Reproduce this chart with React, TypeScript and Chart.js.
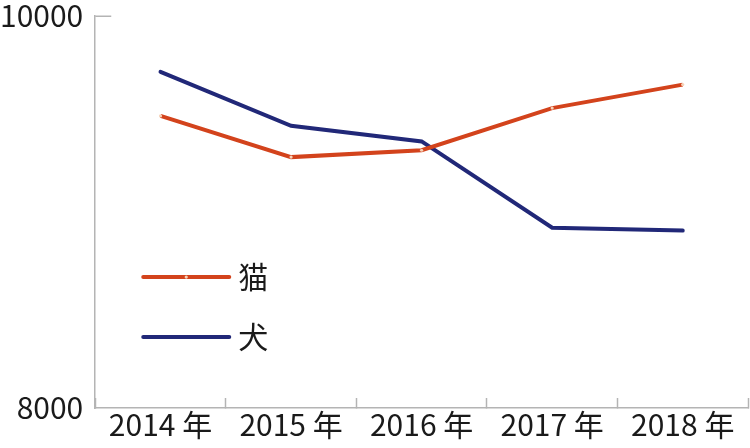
import { useEffect, useRef } from 'react';
import { Chart, registerables } from 'chart.js';

Chart.register(...registerables);

const years = ['2014 年', '2015 年', '2016 年', '2017 年', '2018 年'];
const catValues = [9490, 9280, 9315, 9530, 9650];
const dogValues = [9715, 9440, 9360, 8920, 8905];
const yTicks = [8000, 10000];

const FONT = '"Noto Sans CJK JP", "Noto Sans", sans-serif';
const AXIS_GRAY = '#b4b4b4';

// inward tick marks on the value axis
const innerYTicks = {
  id: 'innerYTicks',
  afterDraw(chart: Chart) {
    const { ctx, chartArea } = chart;
    const yScale: any = chart.scales.y;
    ctx.save();
    ctx.strokeStyle = AXIS_GRAY;
    ctx.lineWidth = 1.5;
    yScale.ticks.forEach((t: any) => {
      if (t.value === yScale.min) return;
      const y = Math.round(yScale.getPixelForValue(t.value)) + 0.25;
      ctx.beginPath();
      ctx.moveTo(chartArea.left, y);
      ctx.lineTo(chartArea.left + 16, y);
      ctx.stroke();
    });
    ctx.restore();
  },
};

// legend drawn inside the plot area, left side
const insideLegend = {
  id: 'insideLegend',
  afterDatasetsDraw(chart: Chart) {
    const { ctx, chartArea } = chart;
    const rows = [0.666, 0.819];
    ctx.save();
    chart.data.datasets.forEach((ds: any, i: number) => {
      const y = chartArea.top + chartArea.height * rows[i];
      const x0 = chartArea.left + 48;
      const x1 = chartArea.left + 134;
      ctx.strokeStyle = ds.borderColor;
      ctx.lineWidth = 4;
      ctx.lineCap = 'round';
      ctx.beginPath();
      ctx.moveTo(x0, y);
      ctx.lineTo(x1, y);
      ctx.stroke();
      if (ds.pointRadius > 0) {
        ctx.fillStyle = ds.pointBackgroundColor;
        ctx.beginPath();
        ctx.arc((x0 + x1) / 2, y, ds.pointRadius, 0, Math.PI * 2);
        ctx.fill();
      }
      ctx.fillStyle = '#1a1a1a';
      ctx.font = `30px ${FONT}`;
      ctx.textBaseline = 'middle';
      ctx.textAlign = 'left';
      ctx.fillText(ds.label, x1 + 9, y);
    });
    ctx.restore();
  },
};

export default function App() {
  const canvasRef = useRef<HTMLCanvasElement | null>(null);

  useEffect(() => {
    document.body.style.margin = '0';
    if (!canvasRef.current) return;

    const chart = new Chart(canvasRef.current, {
      type: 'line',
      data: {
        labels: years,
        datasets: [
          {
            label: '猫',
            data: catValues,
            borderColor: '#d3431c',
            borderWidth: 4,
            pointRadius: 1.6,
            pointHoverRadius: 0,
            pointBorderWidth: 0,
            pointBackgroundColor: '#f6d2b8',
            tension: 0,
          },
          {
            label: '犬',
            data: dogValues,
            borderColor: '#212878',
            borderWidth: 4,
            borderCapStyle: 'round',
            pointRadius: 0,
            pointHoverRadius: 0,
            tension: 0,
          },
        ],
      },
      options: {
        animation: false,
        responsive: true,
        maintainAspectRatio: false,
        layout: { autoPadding: false, padding: { top: 16, right: 2, left: 0, bottom: -4 } },
        plugins: {
          legend: { display: false },
          tooltip: { enabled: false },
        },
        scales: {
          x: {
            offset: true,
            border: { color: AXIS_GRAY, width: 1.5 },
            grid: {
              offset: true,
              drawOnChartArea: false,
              tickLength: -10,
              tickColor: AXIS_GRAY,
              tickWidth: 1.5,
            },
            ticks: {
              color: '#1a1a1a',
              padding: 12,
              font: { family: FONT, size: 30, lineHeight: 1 },
            },
          },
          y: {
            min: 8000,
            max: 10000,
            afterBuildTicks: (axis: any) => {
              axis.ticks = yTicks.map((v) => ({ value: v }));
            },
            border: { color: AXIS_GRAY, width: 1.5 },
            grid: {
              drawOnChartArea: false,
              tickLength: 12,
              tickColor: 'rgba(0,0,0,0)',
            },
            ticks: {
              color: '#1a1a1a',
              padding: 0,
              callback: (v: any) => String(v),
              font: { family: FONT, size: 30, lineHeight: 1 },
            },
          },
        },
      },
      plugins: [innerYTicks, insideLegend],
    });

    return () => chart.destroy();
  }, []);

  return (
    <div style={{ width: 750, height: 448, position: 'relative', background: '#fff' }}>
      <canvas ref={canvasRef}></canvas>
    </div>
  );
}
